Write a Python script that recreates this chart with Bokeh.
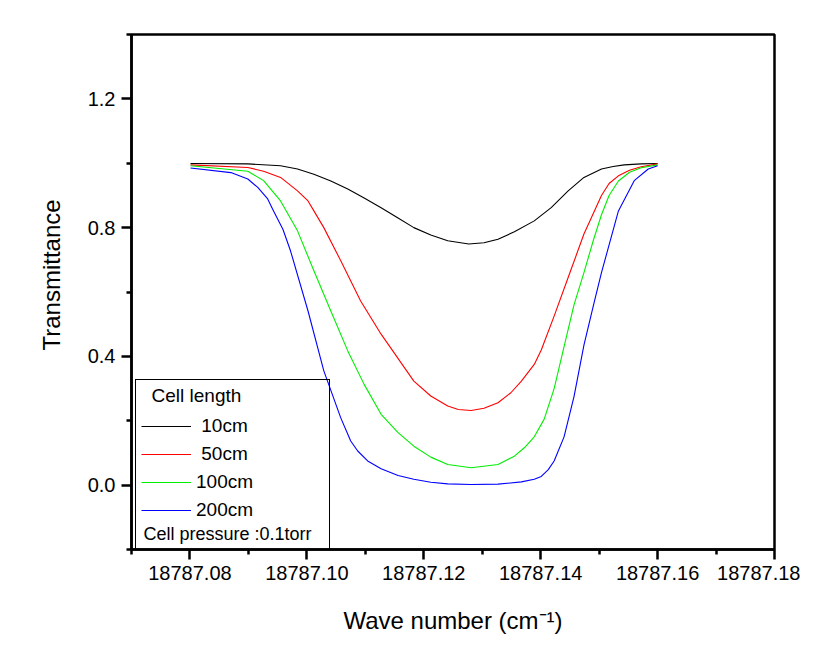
from bokeh.plotting import figure
from bokeh.models import (Range1d, FixedTicker, PrintfTickFormatter, Legend, LegendItem, Label, Title)
from bokeh.embed import file_html
from bokeh.resources import INLINE

# ---- data ----
wn_10 = [18787.0801, 18787.0899, 18787.0955, 18787.0984, 18787.1012, 18787.1041, 18787.1070,
         18787.1098, 18787.1127, 18787.1156, 18787.1183, 18787.1212, 18787.1241, 18787.1277,
         18787.1303, 18787.1327, 18787.1355, 18787.1389, 18787.1418, 18787.1447, 18787.1474,
         18787.1504, 18787.1524, 18787.1543, 18787.1572, 18787.1600]
t_10 = [0.999, 0.998, 0.992, 0.982, 0.966, 0.945, 0.920, 0.892, 0.862, 0.830, 0.800, 0.777,
        0.759, 0.749, 0.753, 0.764, 0.787, 0.821, 0.862, 0.914, 0.956, 0.982, 0.990, 0.995,
        0.998, 0.999]

wn_50 = [18787.0801, 18787.0899, 18787.0926, 18787.0955, 18787.0984, 18787.1002, 18787.1012,
         18787.1029, 18787.1058, 18787.1092, 18787.1127, 18787.1183, 18787.1212, 18787.1241,
         18787.1259, 18787.1281, 18787.1303, 18787.1327, 18787.1349, 18787.1367, 18787.1389,
         18787.1401, 18787.1423, 18787.1447, 18787.1474, 18787.1504, 18787.1517, 18787.1533,
         18787.1552, 18787.1572, 18787.1600]
t_50 = [0.995, 0.987, 0.975, 0.956, 0.914, 0.883, 0.852, 0.800, 0.697, 0.572, 0.469, 0.323,
        0.277, 0.246, 0.235, 0.232, 0.239, 0.256, 0.287, 0.323, 0.375, 0.420, 0.525, 0.645,
        0.780, 0.900, 0.937, 0.961, 0.978, 0.989, 0.998]

wn_100 = [18787.0801, 18787.0899, 18787.0926, 18787.0955, 18787.0984, 18787.1012, 18787.1041,
          18787.1070, 18787.1098, 18787.1127, 18787.1156, 18787.1183, 18787.1212, 18787.1241,
          18787.1281, 18787.1327, 18787.1355, 18787.1372, 18787.1389, 18787.1406, 18787.1423,
          18787.1440, 18787.1457, 18787.1474, 18787.1490, 18787.1504, 18787.1517, 18787.1533,
          18787.1552, 18787.1572, 18787.1600]
t_100 = [0.992, 0.975, 0.946, 0.883, 0.790, 0.666, 0.541, 0.417, 0.313, 0.220, 0.163, 0.121,
         0.087, 0.064, 0.054, 0.064, 0.090, 0.116, 0.150, 0.205, 0.300, 0.430, 0.560, 0.660,
         0.760, 0.840, 0.900, 0.945, 0.972, 0.986, 0.995]

wn_200 = [18787.0801, 18787.0870, 18787.0899, 18787.0916, 18787.0933, 18787.0943, 18787.0959,
          18787.0972, 18787.1002, 18787.1029, 18787.1058, 18787.1075, 18787.1087, 18787.1104,
          18787.1127, 18787.1156, 18787.1183, 18787.1212, 18787.1241, 18787.1281, 18787.1327,
          18787.1367, 18787.1389, 18787.1401, 18787.1413, 18787.1423, 18787.1440, 18787.1457,
          18787.1474, 18787.1492, 18787.1504, 18787.1533, 18787.1560, 18787.1584, 18787.1600]
t_200 = [0.985, 0.971, 0.951, 0.925, 0.889, 0.852, 0.795, 0.728, 0.541, 0.355, 0.209, 0.137,
         0.106, 0.075, 0.051, 0.030, 0.018, 0.009, 0.004, 0.002, 0.003, 0.010, 0.018, 0.027,
         0.048, 0.075, 0.150, 0.275, 0.435, 0.572, 0.660, 0.852, 0.946, 0.982, 0.992]

series_labels = ["\u00a010cm", "\u00a050cm", "100cm", "200cm"]
series_colors = ["#000000", "#ff0000", "#00ee00", "#0000ff"]

x_major = [18787.08, 18787.10, 18787.12, 18787.14, 18787.16, 18787.18]
x_minor = [18787.07, 18787.09, 18787.11, 18787.13, 18787.15, 18787.17]
y_major = [0.0, 0.4, 0.8, 1.2]
y_minor = [-0.2, 0.2, 0.6, 1.0, 1.4]

FONT = "Liberation Sans"

p = figure(width=800, height=640, output_backend="svg", toolbar_location=None,
           x_range=Range1d(18787.07, 18787.18), y_range=Range1d(-0.2, 1.4),
           min_border_left=131, min_border_right=26, min_border_top=34, min_border_bottom=91)
p.xgrid.visible = False
p.ygrid.visible = False
p.outline_line_color = "black"
p.outline_line_width = 2.5
p.background_fill_color = "white"
p.border_fill_color = "white"

renderers = []
for xs, ys, c in zip([wn_10, wn_50, wn_100, wn_200], [t_10, t_50, t_100, t_200], series_colors):
    r = p.line(xs, ys, line_color=c, line_width=1.1, line_join="round")
    renderers.append(r)

for ax in (p.xaxis[0], p.yaxis[0]):
    ax.axis_line_width = 2.5
    ax.major_tick_line_width = 2.5
    ax.minor_tick_line_width = 2.5
    ax.major_tick_in = 0
    ax.major_tick_out = 10
    ax.minor_tick_in = 0
    ax.minor_tick_out = 5
    ax.major_label_text_font = FONT
    ax.major_label_text_font_size = "20px"
    ax.major_label_text_color = "black"
    ax.axis_label_text_font = FONT
    ax.axis_label_text_font_size = "24px"
    ax.axis_label_text_font_style = "normal"
    ax.axis_label_text_color = "black"

p.xaxis[0].ticker = FixedTicker(ticks=x_major, minor_ticks=x_minor)
p.xaxis[0].formatter = PrintfTickFormatter(format="%.2f")
p.xaxis[0].major_label_standoff = 6
p.xaxis[0].axis_label = "Wave number (cm\u207b\u00b9)"
p.xaxis[0].axis_label_standoff = 24

p.yaxis[0].ticker = FixedTicker(ticks=y_major, minor_ticks=y_minor)
p.yaxis[0].formatter = PrintfTickFormatter(format="%.1f")
p.yaxis[0].major_label_standoff = 6

# y-axis title placed as a side title so it can sit above the frame centre like the reference
ytitle = Title(text="Transmittance", align="left", offset=199, text_font=FONT,
               text_font_size="24px", text_font_style="normal", text_color="black",
               standoff=39)
p.add_layout(ytitle, "left")

# invisible renderer to give the legend an extra row for the pressure note
spacer = p.line([], [], line_alpha=0)
items = [LegendItem(label=lab, renderers=[r]) for lab, r in zip(series_labels, renderers)]
items.append(LegendItem(label="\u00a0", renderers=[spacer]))

legend = Legend(items=items, location=(4, -6), title="\u00a0\u00a0Cell length",
                title_text_font=FONT, title_text_font_size="19px", title_text_font_style="normal",
                title_text_color="black", title_standoff=8,
                label_text_font=FONT, label_text_font_size="19px", label_text_color="black",
                label_height=20, glyph_height=20, glyph_width=50, label_standoff=5,
                label_width=128, spacing=6, padding=5, margin=0,
                border_line_color="black", border_line_width=1.5, border_line_alpha=1.0,
                background_fill_color="white", background_fill_alpha=0.0)
p.add_layout(legend, "center")

note = Label(x=12, y=16, x_units="screen", y_units="screen", text="Cell pressure :0.1torr",
             text_font=FONT, text_font_size="18px", text_baseline="middle", text_color="black",
             level="overlay")
p.add_layout(note, "center")

open("out.html", "w").write(file_html(p, INLINE))
